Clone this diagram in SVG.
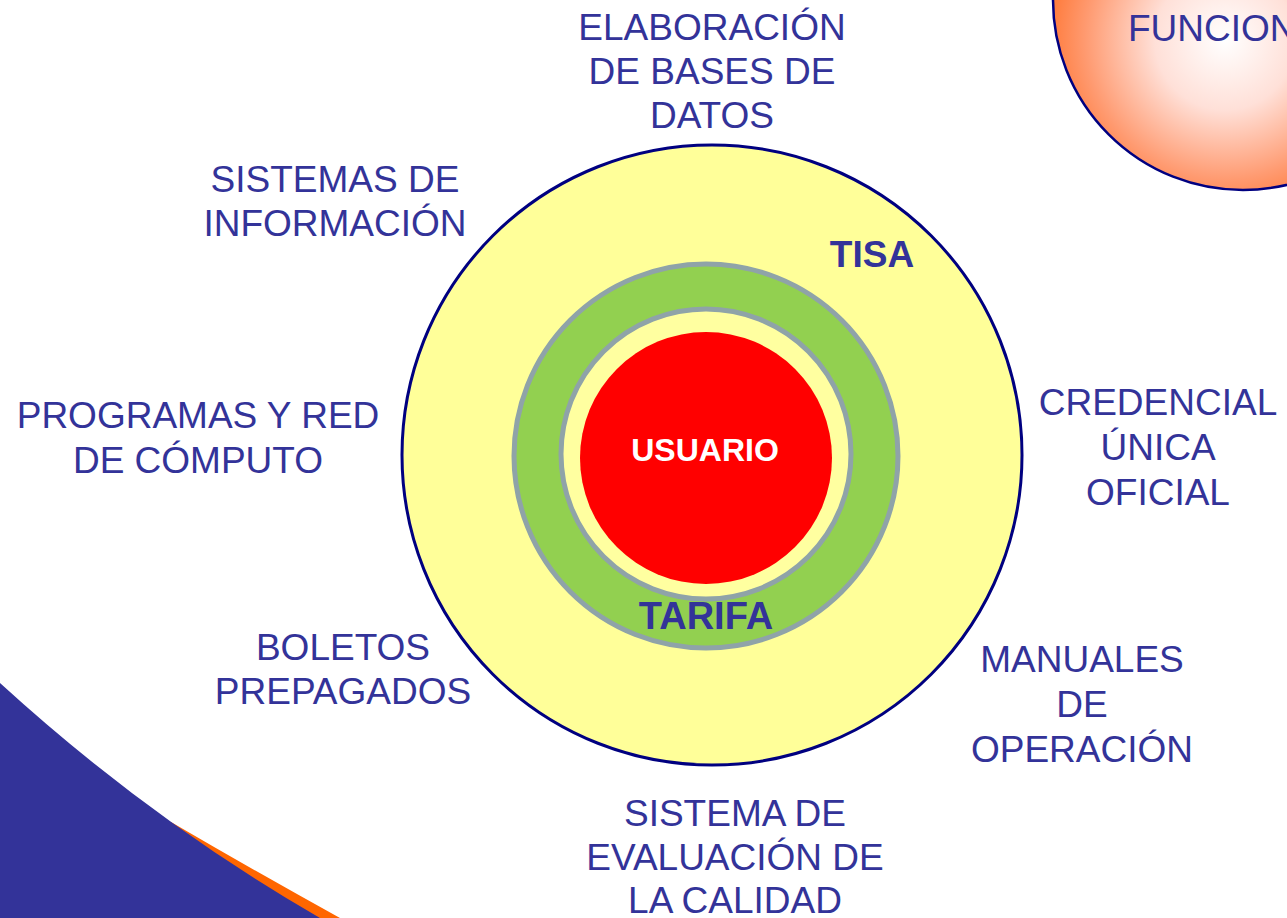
<svg xmlns="http://www.w3.org/2000/svg" width="1287" height="918" viewBox="0 0 1287 918">
<defs>
<radialGradient id="og" cx="1225" cy="40" r="200" gradientUnits="userSpaceOnUse">
<stop offset="0" stop-color="#FFFFFF"/>
<stop offset="0.35" stop-color="#FFE0D8"/>
<stop offset="0.7" stop-color="#FF9A70"/>
<stop offset="1" stop-color="#FF6619"/>
</radialGradient>
<style>
.lbl{font-family:"Liberation Sans",Arial,sans-serif;font-size:37px;fill:#333399;text-anchor:middle}
.bold{font-family:"Liberation Sans",Arial,sans-serif;font-weight:bold;text-anchor:middle}
.ring{stroke:#8FA3A8;stroke-width:5}
</style>
</defs>
<rect width="1287" height="918" fill="#FFFFFF"/>
<g id="swoop">
<path d="M171,822 Q260,874 340,918 L200,918 Z" fill="#FF6600"/>
<path d="M0,683 Q150,820 320,918 L0,918 Z" fill="#333399"/>
</g>
<g id="funcion">
<circle cx="1243" cy="0" r="190" fill="url(#og)" stroke="#000080" stroke-width="2.5"/>
<text class="lbl" x="1128" y="41" style="text-anchor:start">FUNCION</text>
</g>
<g id="tisa">
<circle cx="712" cy="455" r="310" fill="#FFFF99" stroke="#000080" stroke-width="3"/>
<text class="bold" x="872" y="267" font-size="37" fill="#333399">TISA</text>
</g>
<g id="tarifa">
<circle class="ring" cx="706" cy="456" r="192" fill="#92D050"/>
<text class="bold" x="706" y="629" font-size="38" fill="#333399">TARIFA</text>
</g>
<g id="inner">
<circle class="ring" cx="706" cy="454" r="145" fill="#FFFFA0"/>
</g>
<g id="usuario">
<circle cx="706" cy="458" r="126" fill="#FF0000"/>
<text class="bold" x="705" y="461" font-size="32" fill="#FFFFFF">USUARIO</text>
</g>
<g id="bases"><text class="lbl"><tspan x="712" y="40">ELABORACIÓN</tspan><tspan x="712" y="84">DE BASES DE</tspan><tspan x="712" y="128">DATOS</tspan></text></g>
<g id="sistemas"><text class="lbl"><tspan x="335" y="192">SISTEMAS DE</tspan><tspan x="335" y="236">INFORMACIÓN</tspan></text></g>
<g id="programas"><text class="lbl"><tspan x="198" y="428">PROGRAMAS Y RED</tspan><tspan x="198" y="473">DE CÓMPUTO</tspan></text></g>
<g id="boletos"><text class="lbl"><tspan x="343" y="660">BOLETOS</tspan><tspan x="343" y="704">PREPAGADOS</tspan></text></g>
<g id="credencial"><text class="lbl"><tspan x="1158" y="415">CREDENCIAL</tspan><tspan x="1158" y="460">ÚNICA</tspan><tspan x="1158" y="505">OFICIAL</tspan></text></g>
<g id="manuales"><text class="lbl"><tspan x="1082" y="672">MANUALES</tspan><tspan x="1082" y="717">DE</tspan><tspan x="1082" y="762">OPERACIÓN</tspan></text></g>
<g id="evaluacion"><text class="lbl"><tspan x="735" y="826">SISTEMA DE</tspan><tspan x="735" y="870">EVALUACIÓN DE</tspan><tspan x="735" y="913">LA CALIDAD</tspan></text></g>
<g id="connectors"/>
</svg>
